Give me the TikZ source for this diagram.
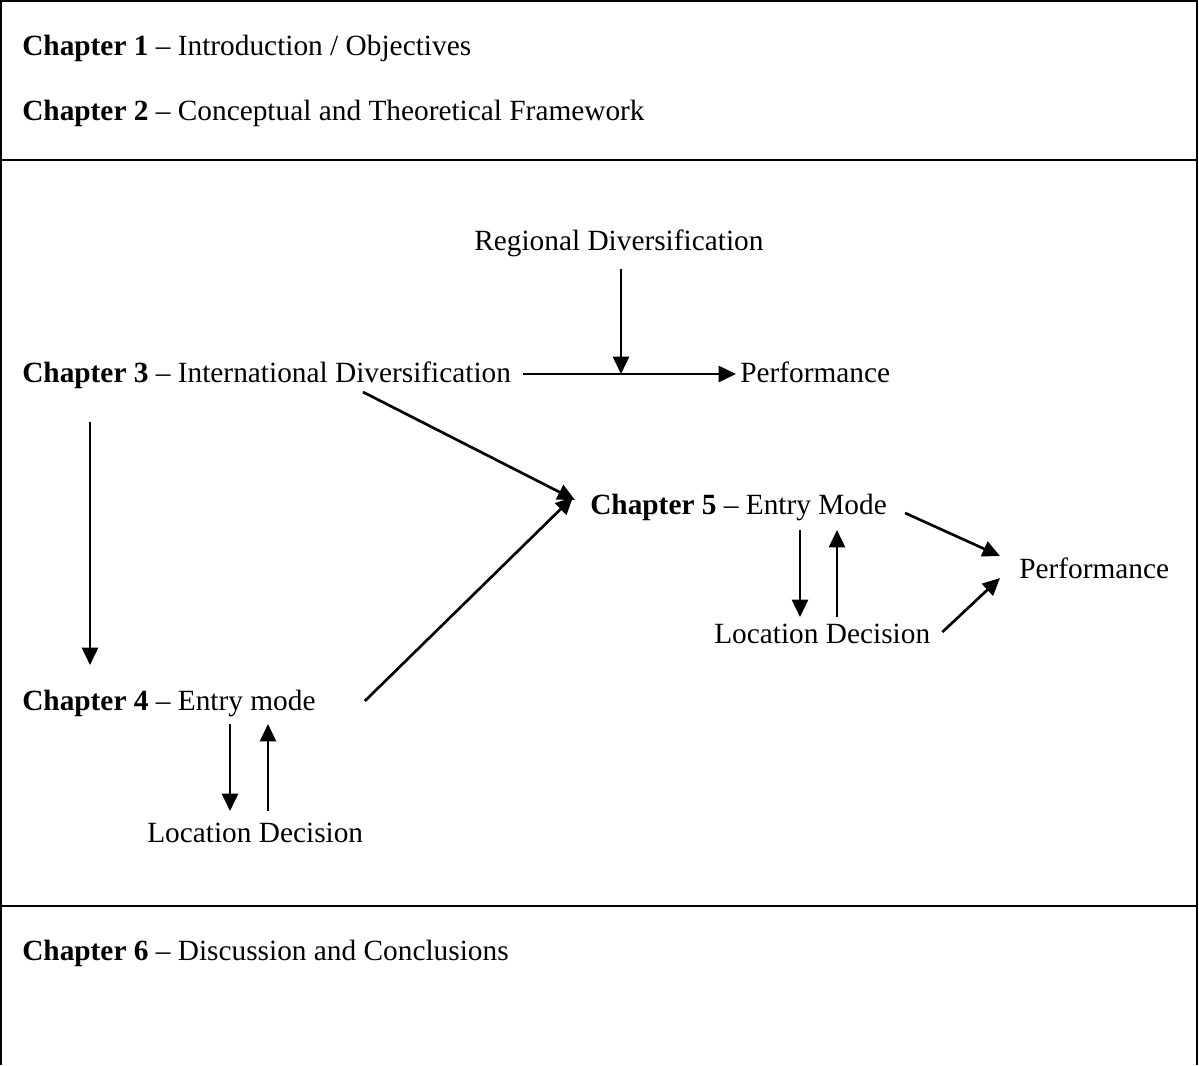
\documentclass[tikz,border=0pt]{standalone}
\usepackage{fontspec}
\setmainfont{Liberation Serif}
\usepackage{tikz}
\usetikzlibrary{positioning,arrows.meta,calc}

\begin{document}
\begin{tikzpicture}[x=0.75pt,y=-0.75pt,font=\fontsize{22}{26}\selectfont,>={Triangle[length=13pt,width=12pt]},
  txt/.style={inner sep=0pt,anchor=base west},
  arr/.style={->,line width=2pt}]
  \useasboundingbox (0,0) rectangle (1199,1065);
  \draw[line width=1.5pt] (1,1065) -- (1,1) -- (1197,1) -- (1197,1065);
  \draw[line width=1.5pt] (1,160) -- (1197,160);
  \draw[line width=1.5pt] (1,906) -- (1197,906);
  \node[txt] (ch1) at (22,55) {\textbf{Chapter 1} -- Introduction / Objectives};
  \node[txt] (ch2) at (22,120) {\textbf{Chapter 2} -- Conceptual and Theoretical Framework};
  \node[txt] (reg) at (474,250) {Regional Diversification};
  \node[txt] (ch3) at (22,382) {\textbf{Chapter 3} -- International Diversification};
  \node[txt] (perfA) at (740,382) {Performance};
  \node[txt] (ch5) at (590,514) {\textbf{Chapter 5} -- Entry Mode};
  \node[txt] (perfB) at (1019,578) {Performance};
  \node[txt] (locB) at (714,643) {Location Decision};
  \node[txt] (ch4) at (22,710) {\textbf{Chapter 4} -- Entry mode};
  \node[txt] (locA) at (147,842) {Location Decision};
  \node[txt] (ch6) at (22,960) {\textbf{Chapter 6} -- Discussion and Conclusions};
  \coordinate (join) at ($(perfA.base west)+(-119,-8)$);
  \draw[arr] ($(ch3.base east)+(12,-8)$) -- ($(perfA.base west)+(-4,-8)$);
  \draw[arr] ($(reg.base -| join)+(0,19)$) -- (join);
  \draw[arr] ($(ch3.base west)+(341,10)$) -- ($(ch5.base west)+(-15,-14)$);
  \draw[arr] ($(ch4.base east)+(49,-9)$) -- ($(ch5.base west)+(-17,-17)$);
  \draw[arr] ($(ch5.base east)+(18,-1)$) -- ($(perfB.base west)+(-19,-22)$);
  \draw[arr] ($(locB.base east)+(12,-11)$) -- ($(perfB.base west)+(-19,0)$);
  \draw[arr] ($(ch5.base west)+(210,16)$) -- ($(locB.base west)+(86,-26)$);
  \draw[arr] ($(locB.base west)+(123,-26)$) -- ($(ch5.base west)+(247,16)$);
  \draw[arr] ($(ch3.base west)+(68,40)$) -- ($(ch4.base west)+(68,-45)$);
  \draw[arr] ($(ch4.base west)+(208,14)$) -- ($(locA.base west)+(83,-31)$);
  \draw[arr] ($(locA.base west)+(121,-31)$) -- ($(ch4.base west)+(246,14)$);
\end{tikzpicture}
\end{document}
